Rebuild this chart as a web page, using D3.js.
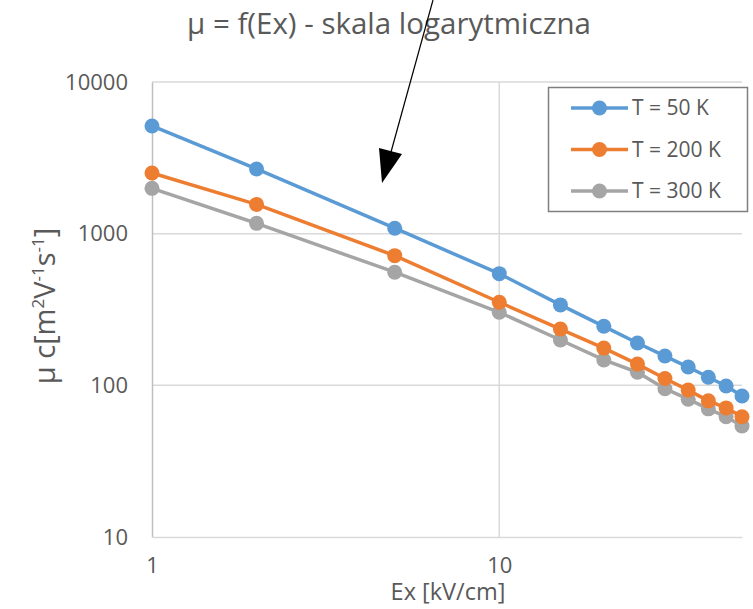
<!DOCTYPE html>
<html>
<head>
<meta charset="utf-8">
<script src="https://cdn.jsdelivr.net/npm/d3@7"></script>
<style>
  html, body { margin: 0; padding: 0; background: #fff; }
  svg { display: block; font-family: "Open Sans", "Noto Sans", sans-serif; }
</style>
</head>
<body>
<svg id="chart" width="753" height="609"></svg>
<script>
// Electric field strength [kV/cm]
const fieldValues = [1, 2, 5, 10, 15, 20, 25, 30, 35, 40, 45, 50];
// Mobility μ [m²V⁻¹s⁻¹] for each temperature
const mobility50K  = [5130, 2670, 1086, 545, 339, 245, 190, 156, 132, 113, 99, 85];
const mobility200K = [2510, 1560, 716, 353, 235, 176, 138, 111, 93, 79, 71, 62];
const mobility300K = [1990, 1170, 557, 303, 199, 147, 122, 95, 81, 70, 62, 54];
const seriesNames  = ["T = 50 K", "T = 200 K", "T = 300 K"];
const seriesColors = ["#5b9bd5", "#ed7d31", "#a5a5a5"];
const yTickValues  = [10, 100, 1000, 10000];
const xTickValues  = [1, 10];

const series = [mobility50K, mobility200K, mobility300K].map((vals, i) => ({
  name: seriesNames[i],
  color: seriesColors[i],
  points: fieldValues.map((x, j) => ({ x, y: vals[j] }))
}));

const svg = d3.select("#chart");
const plot = { left: 152, right: 742, top: 82, bottom: 537 };

const x = d3.scaleLog().domain([1, 50]).range([plot.left, plot.right]);
const y = d3.scaleLog().domain([10, 10000]).range([plot.bottom, plot.top]);

const textColor = "#595959";

// Title
svg.append("text")
  .attr("x", 389).attr("y", 34)
  .attr("text-anchor", "middle")
  .attr("fill", textColor)
  .style("font-size", "29.5px")
  .text("μ = f(Ex) - skala logarytmiczna");

// Horizontal gridlines
svg.append("g")
  .selectAll("line")
  .data(yTickValues.filter(v => v > 10))
  .join("line")
  .attr("x1", plot.left).attr("x2", plot.right)
  .attr("y1", d => y(d)).attr("y2", d => y(d))
  .attr("stroke", "#d9d9d9").attr("stroke-width", 1.5);

// Vertical gridlines
svg.append("g")
  .selectAll("line")
  .data(xTickValues.filter(v => v > 1))
  .join("line")
  .attr("x1", d => x(d)).attr("x2", d => x(d))
  .attr("y1", plot.top).attr("y2", plot.bottom)
  .attr("stroke", "#d9d9d9").attr("stroke-width", 1.5);

// Y axis
const yAxis = d3.axisLeft(y)
  .tickValues(yTickValues)
  .tickFormat(d3.format("d"))
  .tickSize(0)
  .tickPadding(24);
const gy = svg.append("g")
  .attr("transform", `translate(${plot.left},0)`)
  .call(yAxis);
gy.select(".domain").attr("stroke", "#bfbfbf").attr("stroke-width", 1.5);
gy.selectAll("text")
  .attr("fill", textColor)
  .style("font-size", "22px")
  .style("font-family", "'Open Sans', sans-serif");

// X axis
const xAxis = d3.axisBottom(x)
  .tickValues(xTickValues)
  .tickFormat(d3.format("d"))
  .tickSize(0)
  .tickPadding(20);
const gx = svg.append("g")
  .attr("transform", `translate(0,${plot.bottom})`)
  .call(xAxis);
gx.select(".domain").attr("stroke", "#d9d9d9").attr("stroke-width", 1.5);
gx.selectAll("text")
  .attr("fill", textColor)
  .style("font-size", "22px")
  .style("font-family", "'Open Sans', sans-serif");

// Axis titles
svg.append("text")
  .attr("x", 448).attr("y", 600)
  .attr("text-anchor", "middle")
  .attr("fill", textColor)
  .style("font-size", "23.5px")
  .text("Ex [kV/cm]");

const yTitle = svg.append("text")
  .attr("transform", "translate(55,306) rotate(-90)")
  .attr("text-anchor", "middle")
  .attr("fill", textColor)
  .style("font-size", "29px");
yTitle.append("tspan").text("μ c[m");
yTitle.append("tspan").attr("baseline-shift", "super").style("font-size", "17px").text("2");
yTitle.append("tspan").text("V");
yTitle.append("tspan").attr("baseline-shift", "super").style("font-size", "17px").text("-1");
yTitle.append("tspan").text("s");
yTitle.append("tspan").attr("baseline-shift", "super").style("font-size", "17px").text("-1");
yTitle.append("tspan").text("]");

// Series lines and markers
const line = d3.line().x(d => x(d.x)).y(d => y(d.y));
const gSeries = svg.append("g");
series.slice().reverse().forEach(s => {
  gSeries.append("path")
    .datum(s.points)
    .attr("d", line)
    .attr("fill", "none")
    .attr("stroke", s.color)
    .attr("stroke-width", 3.5)
    .attr("stroke-linejoin", "round");
  gSeries.append("g")
    .selectAll("circle")
    .data(s.points)
    .join("circle")
    .attr("cx", d => x(d.x))
    .attr("cy", d => y(d.y))
    .attr("r", 7.5)
    .attr("fill", s.color);
});

// Legend
const legend = svg.append("g");
legend.append("rect")
  .attr("x", 548.5).attr("y", 87.5)
  .attr("width", 199).attr("height", 124)
  .attr("fill", "#fff")
  .attr("stroke", "#7f7f7f").attr("stroke-width", 1.5);
series.forEach((s, i) => {
  const cy = 108 + i * 41.5;
  legend.append("line")
    .attr("x1", 571).attr("x2", 628)
    .attr("y1", cy).attr("y2", cy)
    .attr("stroke", s.color).attr("stroke-width", 3.5);
  legend.append("circle")
    .attr("cx", 599.5).attr("cy", cy).attr("r", 7.5)
    .attr("fill", s.color);
  legend.append("text")
    .attr("x", 632).attr("y", cy)
    .attr("dy", "0.35em")
    .attr("fill", textColor)
    .style("font-size", "21px")
    .text(s.name);
});

// Annotation arrow
svg.append("line")
  .attr("x1", 433).attr("y1", 0)
  .attr("x2", 391).attr("y2", 152)
  .attr("stroke", "#000").attr("stroke-width", 1.2);
svg.append("path")
  .attr("d", "M379,148 L402,154 L382,183 Z")
  .attr("fill", "#000");
</script>
</body>
</html>
